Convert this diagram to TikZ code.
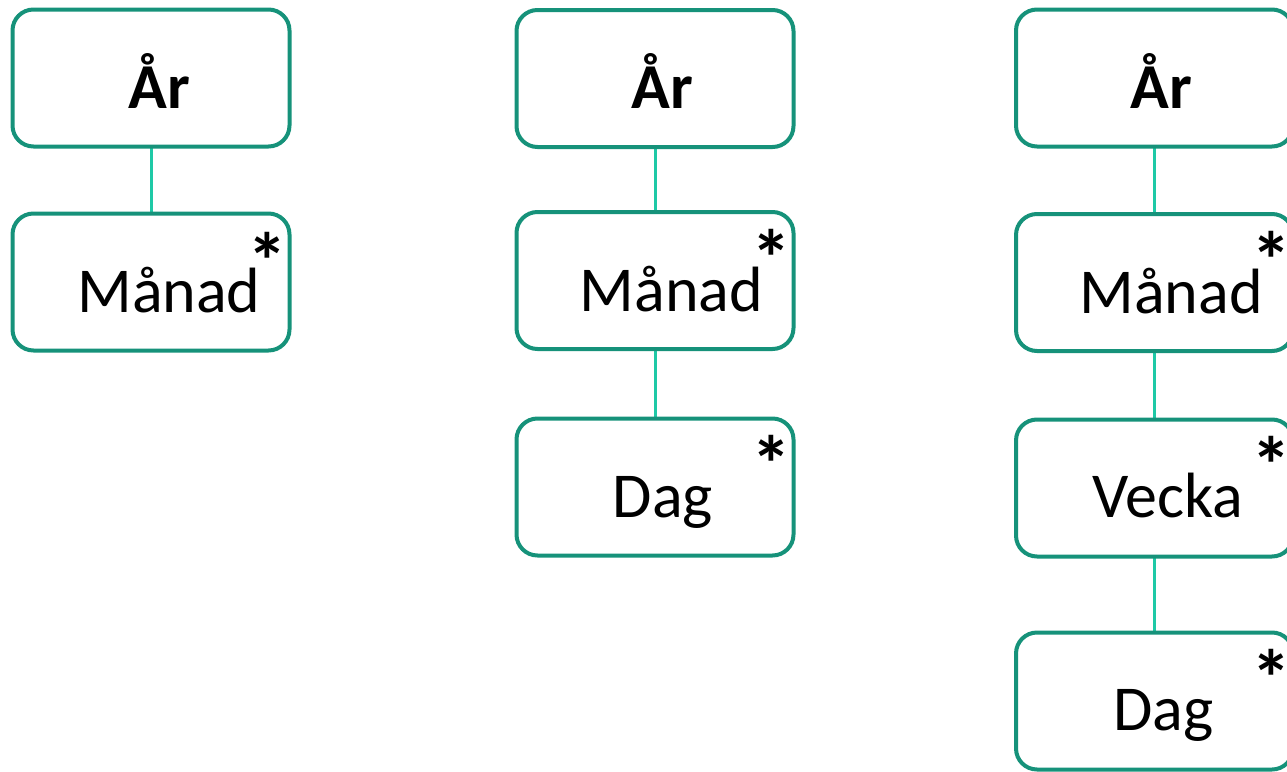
\documentclass[tikz,border=0pt]{standalone}
\usepackage{fontspec}
\setmainfont{Carlito}
\usetikzlibrary{backgrounds}

\definecolor{boxline}{RGB}{22,146,122}
\definecolor{linkline}{RGB}{30,201,166}

\tikzset{
  levelbox/.style={draw=boxline, line width=4pt, rounded corners=21pt, fill=white,
    minimum width=277pt, minimum height=137pt, inner sep=0pt, outer sep=0pt},
  lbl/.style={inner sep=0pt, anchor=base, font=\fontsize{64}{76}\selectfont},
  star/.style={inner sep=0pt, anchor=base, font=\fontsize{80}{90}\selectfont\bfseries},
  link/.style={draw=linkline, line width=3pt}
}
\newcommand{\mult}{\makebox[0pt]{\smash{*}}}

\begin{document}
\begin{tikzpicture}[x=1pt, y=1pt]
\clip (0,0) rectangle (1287,-771);
\useasboundingbox (0,0) rectangle (1287,-771);

% first hierarchy: year - month
\node[levelbox] (y1) at (151,-78) {};
\node[levelbox] (m1) at (151,-282) {};

% second hierarchy: year - month - day
\node[levelbox] (y2) at (655,-78.5) {};
\node[levelbox] (m2) at (655,-280.5) {};
\node[levelbox] (d2) at (655,-487) {};

% third hierarchy: year - month - week - day
\node[levelbox] (y3) at (1154.5,-78) {};
\node[levelbox] (m3) at (1154.5,-282.5) {};
\node[levelbox] (w3) at (1154.5,-488) {};
\node[levelbox] (d3) at (1154.5,-701) {};

% labels
\node[lbl, font=\fontsize{64}{76}\selectfont\bfseries] (ty1) at ([xshift=8pt,yshift=-98.5pt]y1.north) {År};
\node[lbl] (tm1) at ([xshift=18pt,yshift=-99pt]m1.north) {Månad};
\node[lbl, font=\fontsize{64}{76}\selectfont\bfseries] (ty2) at ([xshift=7pt,yshift=-98.5pt]y2.north) {År};
\node[lbl] (tm2) at ([xshift=16.5pt,yshift=-99pt]m2.north) {Månad};
\node[lbl] (td2) at ([xshift=8pt,yshift=-99pt]d2.north) {Dag};
\node[lbl, font=\fontsize{64}{76}\selectfont\bfseries] (ty3) at ([xshift=6.5pt,yshift=-98.5pt]y3.north) {År};
\node[lbl] (tm3) at ([xshift=16.5pt,yshift=-99pt]m3.north) {Månad};
\node[lbl] (tw3) at ([xshift=13pt,yshift=-97.5pt]w3.north) {Vecka};
\node[lbl] (td3) at ([xshift=9pt,yshift=-98pt]d3.north) {Dag};

% multiplicity marks
\node[star] (s1) at ([xshift=-22pt,yshift=-76pt]m1.north east) {\mult};
\node[star] (s2) at ([xshift=-22pt,yshift=-74pt]m2.north east) {\mult};
\node[star] (s3) at ([xshift=-22pt,yshift=-74pt]d2.north east) {\mult};
\node[star] (s4) at ([xshift=-22pt,yshift=-74pt]m3.north east) {\mult};
\node[star] (s5) at ([xshift=-22pt,yshift=-74pt]w3.north east) {\mult};
\node[star] (s6) at ([xshift=-22pt,yshift=-74pt]d3.north east) {\mult};

% connectors
\begin{scope}[on background layer]
\draw[link] (y1.south) -- (m1.north);
\draw[link] (y2.south) -- (m2.north);
\draw[link] (m2.south) -- (d2.north);
\draw[link] (y3.south) -- (m3.north);
\draw[link] (m3.south) -- (w3.north);
\draw[link] (w3.south) -- (d3.north);
\end{scope}
\end{tikzpicture}
\end{document}
